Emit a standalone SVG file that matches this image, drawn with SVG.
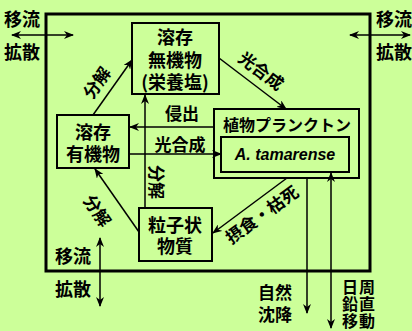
<svg xmlns="http://www.w3.org/2000/svg" width="412" height="331" viewBox="0 0 412 331">
<style>
text{font-family:"Noto Sans CJK JP","Noto Sans CJK SC",sans-serif;font-weight:bold;font-size:18px;fill:#000;text-anchor:middle}
.s{font-size:17px}
.v{font-size:16px;letter-spacing:1px}
.box{fill:none;stroke:#000;stroke-width:2}
.c line{stroke:#000;stroke-width:1.5}
.it{font-family:"Liberation Sans",Arial,sans-serif;font-style:italic;font-size:16px}
</style>
<defs>
<marker id="ah" markerUnits="userSpaceOnUse" markerWidth="10" markerHeight="8" refX="9" refY="4" orient="auto-start-reverse">
<path d="M0,0 L10,4 L0,8 L3,4 z" fill="#000"/>
</marker>
</defs>
<rect width="412" height="331" fill="#ccff99"/>
<rect x="46" y="14" width="324" height="257" fill="none" stroke="#000" stroke-width="3"/>

<g class="c">
<line x1="12" y1="35" x2="73" y2="35" marker-start="url(#ah)" marker-end="url(#ah)"/>
<line x1="350" y1="35" x2="410" y2="35" marker-start="url(#ah)" marker-end="url(#ah)"/>
<line x1="100" y1="238" x2="100" y2="306" marker-start="url(#ah)" marker-end="url(#ah)"/>
<line x1="93" y1="115" x2="132" y2="60" marker-end="url(#ah)"/>
<line x1="219" y1="58" x2="286" y2="109" marker-end="url(#ah)"/>
<line x1="214" y1="127" x2="130" y2="127" marker-end="url(#ah)"/>
<line x1="129" y1="154" x2="221" y2="154" marker-end="url(#ah)"/>
<line x1="145" y1="208" x2="145" y2="95" marker-end="url(#ah)"/>
<line x1="139" y1="232" x2="95" y2="169" marker-end="url(#ah)"/>
<line x1="287" y1="178" x2="213" y2="233" marker-end="url(#ah)"/>
<line x1="307" y1="178" x2="307" y2="313" marker-end="url(#ah)"/>
<line x1="331" y1="173" x2="331" y2="328" marker-start="url(#ah)" marker-end="url(#ah)"/>
</g>

<g id="inorganic">
<rect class="box" x="132" y="23" width="87" height="71"/>
<text x="175" y="44">溶存</text>
<text x="175" y="67">無機物</text>
<text x="175" y="89">(栄養塩)</text>
</g>
<g id="organic">
<rect class="box" x="57" y="115" width="72" height="53"/>
<text x="93" y="139">溶存</text>
<text x="93" y="161">有機物</text>
</g>
<g id="phyto">
<rect class="box" x="214" y="109" width="145" height="69"/>
<text x="287" y="131" style="font-size:16px">植物プランクトン</text>
<rect class="box" x="221" y="137" width="128" height="35"/>
<text class="it" x="285" y="160">A. tamarense</text>
</g>
<g id="particle">
<rect class="box" x="139" y="208" width="73" height="53"/>
<text x="175" y="232">粒子状</text>
<text x="175" y="253">物質</text>
</g>

<g id="labels">
<text x="22" y="26">移流</text>
<text x="22" y="59">拡散</text>
<text x="394" y="26">移流</text>
<text x="394" y="59">拡散</text>
<text x="73" y="263">移流</text>
<text x="73" y="296">拡散</text>
<text class="s" x="182" y="120">侵出</text>
<text class="s" x="180" y="151">光合成</text>
<text class="s" transform="translate(97,83) rotate(-55)" y="6">分解</text>
<text class="s" transform="translate(261,71) rotate(37)" y="6">光合成</text>
<text class="s" transform="translate(155.5,182) rotate(90)" y="6">分解</text>
<text class="s" transform="translate(97,211) rotate(56)" y="6">分解</text>
<text class="s" transform="translate(262,215) rotate(-36)" y="6">摂食・枯死</text>
<text class="s" x="275" y="299">自然</text>
<text class="s" x="275" y="321">沈降</text>
<text class="v" x="359" y="293">日周</text>
<text class="v" x="359" y="310">鉛直</text>
<text class="v" x="359" y="327">移動</text>
</g>
</svg>
